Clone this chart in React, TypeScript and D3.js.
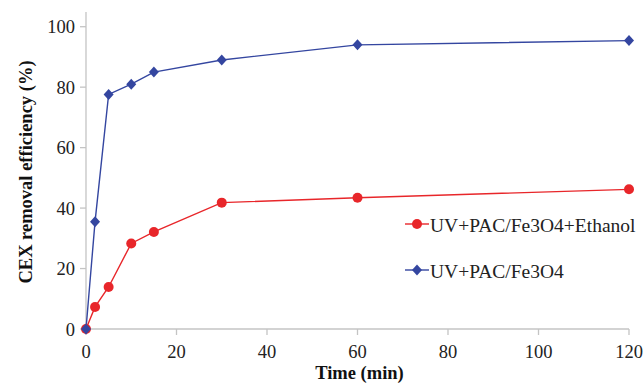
import React from "react";
import * as d3 from "d3";

const times = [0, 2, 5, 10, 15, 30, 60, 120];
const seriesNames = ["UV+PAC/Fe3O4+Ethanol", "UV+PAC/Fe3O4"];
const ethanolValues = [0, 7.3, 13.9, 28.3, 32.1, 41.8, 43.4, 46.2];
const plainValues = [0, 35.5, 77.6, 81, 85, 89, 94, 95.4];
const xTicks = [0, 20, 40, 60, 80, 100, 120];
const yTicks = [0, 20, 40, 60, 80, 100];

const W = 643, H = 386;
const left = 86, right = 629, top = 26.7, bottom = 329;
const RED = "#e8262a", BLUE = "#3446a0", AXIS = "#c4c4c4";
const FONT = "Liberation Serif";

export default function App() {
  const x = d3.scaleLinear().domain([0, 120]).range([left, right]);
  const y = d3.scaleLinear().domain([0, 100]).range([bottom, top]);
  const line = d3.line<number>().x((_, i) => x(times[i])).y((d) => y(d));
  const diamond = (cx: number, cy: number, w = 5, h = 5.5) =>
    `M${cx},${cy - h}L${cx + w},${cy}L${cx},${cy + h}L${cx - w},${cy}Z`;

  return (
    <svg width={W} height={H} style={{ position: "absolute", left: 0, top: 0, fontFamily: FONT }}>
      <rect width={W} height={H} fill="#fff" />
      {/* axes */}
      <line x1={left} x2={left} y1={12} y2={bottom} stroke={AXIS} strokeWidth={1.3} />
      <line x1={left} x2={right} y1={bottom} y2={bottom} stroke={AXIS} strokeWidth={1.3} />
      {yTicks.map((t) => (
        <g key={"y" + t}>
          <line x1={left - 6} x2={left} y1={y(t)} y2={y(t)} stroke={AXIS} strokeWidth={1.3} />
          <text x={75} y={y(t) + 6.5} textAnchor="end" fontFamily={FONT} fontSize={18.5} fill="#222">
            {t}
          </text>
        </g>
      ))}
      {xTicks.map((t) => (
        <g key={"x" + t}>
          <line x1={x(t)} x2={x(t)} y1={bottom} y2={bottom + 6} stroke={AXIS} strokeWidth={1.3} />
          <text x={x(t)} y={358} textAnchor="middle" fontFamily={FONT} fontSize={18.5} fill="#222">
            {t}
          </text>
        </g>
      ))}
      <text
        transform={`translate(32,172) rotate(-90)`}
        textAnchor="middle"
        fontFamily={FONT}
        fontWeight="bold"
        fontSize={18.5}
        fill="#111"
      >
        CEX removal efficiency (%)
      </text>
      <text x={(left + right) / 2 + 2} y={379} textAnchor="middle" fontFamily={FONT} fontWeight="bold" fontSize={18.5} fill="#111">
        Time (min)
      </text>

      {/* series */}
      <path d={line(plainValues) || ""} fill="none" stroke={BLUE} strokeWidth={1.4} />
      <path d={line(ethanolValues) || ""} fill="none" stroke={RED} strokeWidth={1.4} />
      {ethanolValues.map((v, i) => (
        <circle key={"r" + i} cx={x(times[i])} cy={y(v)} r={5} fill={RED} />
      ))}
      {plainValues.map((v, i) => (
        <path key={"b" + i} d={diamond(x(times[i]), y(v))} fill={BLUE} />
      ))}

      {/* legend */}
      <line x1={405} x2={429} y1={224} y2={224} stroke={RED} strokeWidth={1.4} />
      <circle cx={417} cy={224} r={5} fill={RED} />
      <text x={430} y={232} fontFamily={FONT} fontSize={19.5} fill="#222">
        {seriesNames[0]}
      </text>
      <line x1={405} x2={429} y1={270} y2={270} stroke={BLUE} strokeWidth={1.4} />
      <path d={diamond(417, 270)} fill={BLUE} />
      <text x={430} y={278} fontFamily={FONT} fontSize={19.5} fill="#222">
        {seriesNames[1]}
      </text>
    </svg>
  );
}
